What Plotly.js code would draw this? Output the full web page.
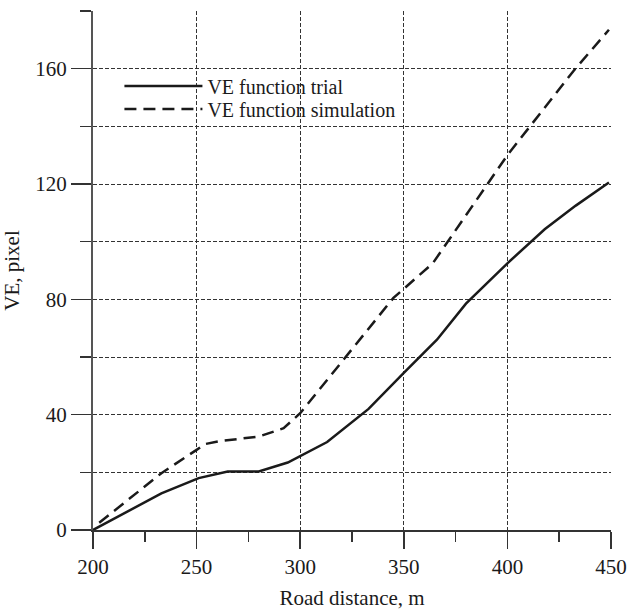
<!DOCTYPE html>
<html>
<head>
<meta charset="utf-8">
<script src="https://cdn.plot.ly/plotly-3.0.1.min.js"></script>
<style>html,body{margin:0;padding:0;background:#fff;}#chart{width:637px;height:613px;}</style>
</head>
<body>
<div id="chart"></div>
<script>
// Data
const trialX = [200, 233, 251, 265, 280, 294, 313, 333, 350, 366, 380, 400, 418, 433, 449];
const trialY = [0, 12.7, 18, 20.3, 20.3, 23.4, 30.5, 42, 54.5, 66, 78.5, 92.5, 104.3, 112.5, 120.5];
const simX = [203, 233, 250, 254, 261, 280, 292, 300, 345, 364, 400, 432, 449];
const simY = [2.5, 19.7, 27.8, 29.8, 30.8, 32.4, 35.3, 40.5, 80.5, 92.5, 130, 159.3, 173.5];
const seriesNames = ["VE function trial", "VE function simulation"];
const xTitle = "Road distance, m";
const yTitle = "VE, pixel";

const FONT = "Liberation Serif, Times New Roman, serif";
const INK = "#1a1a1a";

const traces = [
  {x: trialX, y: trialY, name: seriesNames[0], mode: "lines", legend: "legend",
   line: {color: INK, width: 2.5, dash: "solid"}},
  {x: simX, y: simY, name: seriesNames[1], mode: "lines", legend: "legend2",
   line: {color: INK, width: 2.5, dash: "12px,7px"}}
];

const legendBase = {x: 0.051, xanchor: "left", yanchor: "middle",
  bgcolor: "rgba(0,0,0,0)", font: {family: FONT, size: 20, color: INK},
  itemwidth: 78};

const layout = {
  width: 637, height: 613,
  margin: {l: 93, r: 26, t: 11, b: 83},
  paper_bgcolor: "#fff", plot_bgcolor: "#fff",
  font: {family: FONT, size: 21, color: INK},
  showlegend: true,
  legend: Object.assign({}, legendBase, {y: 0.8555}),
  legend2: Object.assign({}, legendBase, {y: 0.8112}),
  xaxis: {
    range: [200, 450], dtick: 50, tick0: 200,
    ticks: "outside", ticklen: 17, tickwidth: 1.5, tickcolor: "#333",
    showline: true, linecolor: "#333", linewidth: 2,
    showgrid: true, gridcolor: "#333", gridwidth: 1, griddash: "4px,2px",
    zeroline: false,
    minor: {dtick: 25, ticks: "outside", ticklen: 10, tickwidth: 1.5, tickcolor: "#333", showgrid: false},
    title: {text: xTitle, font: {family: FONT, size: 21, color: INK}, standoff: 12},
    tickfont: {family: FONT, size: 21, color: INK}
  },
  yaxis: {
    range: [0, 180], dtick: 40, tick0: 0,
    ticks: "outside", ticklen: 20, tickwidth: 1.5, tickcolor: "#333",
    showline: true, linecolor: "#555", linewidth: 2,
    showgrid: true, gridcolor: "#333", gridwidth: 1, griddash: "4px,2px",
    zeroline: false,
    minor: {dtick: 20, ticks: "outside", ticklen: 11, tickwidth: 1.5, tickcolor: "#333",
      showgrid: true, gridcolor: "#333", gridwidth: 1, griddash: "4px,2px"},
    title: {text: yTitle, font: {family: FONT, size: 21, color: INK}, standoff: 10},
    tickfont: {family: FONT, size: 21, color: INK}
  }
};

Plotly.newPlot("chart", traces, layout, {displayModeBar: false, staticPlot: true});
</script>
</body>
</html>
